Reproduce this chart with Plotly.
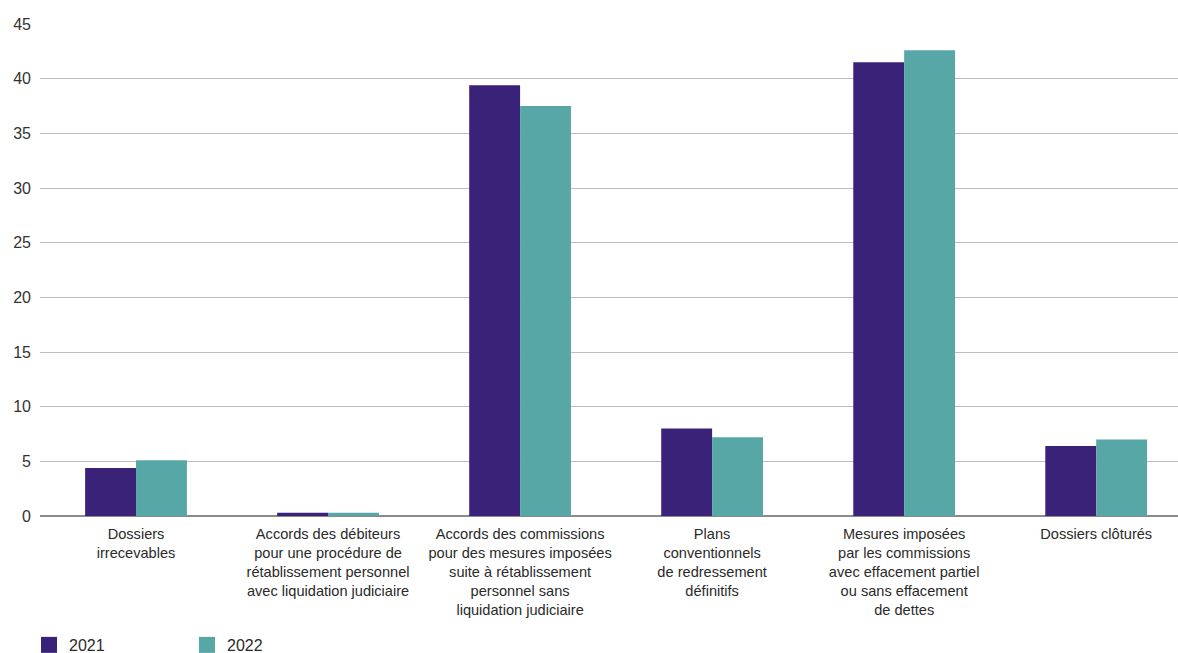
import plotly.graph_objects as go

categories = [
    "Dossiers<br>irrecevables",
    "Accords des débiteurs<br>pour une procédure de<br>rétablissement personnel<br>avec liquidation judiciaire",
    "Accords des commissions<br>pour des mesures imposées<br>suite à rétablissement<br>personnel sans<br>liquidation judiciaire",
    "Plans<br>conventionnels<br>de redressement<br>définitifs",
    "Mesures imposées<br>par les commissions<br>avec effacement partiel<br>ou sans effacement<br>de dettes",
    "Dossiers clôturés",
]
values_2021 = [4.4, 0.3, 39.4, 8.0, 41.5, 6.4]
values_2022 = [5.1, 0.3, 37.5, 7.2, 42.6, 7.0]
y_ticks = [0, 5, 10, 15, 20, 25, 30, 35, 40, 45]

c2021 = "#3B2279"
c2022 = "#57A7A7"
font_family = "Liberation Sans, Arial, sans-serif"

fig = go.Figure()
fig.add_trace(go.Bar(name="2021", x=categories, y=values_2021, marker_color=c2021,
                     marker_line_width=0, showlegend=False))
fig.add_trace(go.Bar(name="2022", x=categories, y=values_2022, marker_color=c2022,
                     marker_line_width=0, showlegend=False))
# legend entries with larger square symbols
fig.add_trace(go.Scatter(name="2021", x=[None], y=[None], mode="markers",
                         marker=dict(symbol="square", size=16, color=c2021)))
fig.add_trace(go.Scatter(name="2022", x=[None], y=[None], mode="markers",
                         marker=dict(symbol="square", size=16, color=c2022)))

fig.update_layout(
    width=1178, height=653,
    margin=dict(l=40, r=0, t=24, b=137, autoexpand=False),
    paper_bgcolor="white", plot_bgcolor="white",
    barmode="group", bargap=0.47, bargroupgap=0,
    font=dict(family=font_family, size=14, color="#2a2a2a"),
    legend=dict(orientation="h", x=0.0246, xref="container", y=-0.2967, yref="paper",
                xanchor="left", yanchor="bottom", entrywidth=113,
                font=dict(size=16, color="#2a2a2a"), itemsizing="trace",
                bgcolor="rgba(0,0,0,0)"),
)
fig.update_xaxes(type="category", range=[-0.5, 5.426], showline=False,
                 ticks="", tickfont=dict(size=14.6, color="#2a2a2a"),
                 ticklabelstandoff=7, tickangle=0, automargin=False)
fig.update_yaxes(range=[0, 45], tickvals=y_ticks, showgrid=True,
                 gridcolor="#BDBDBD", gridwidth=1, zeroline=True,
                 zerolinecolor="#8A8A8A", zerolinewidth=1.5,
                 tickfont=dict(size=16, color="#333333"), ticks="",
                 ticklabelstandoff=8, automargin=False)

fig.write_html("out.html")
